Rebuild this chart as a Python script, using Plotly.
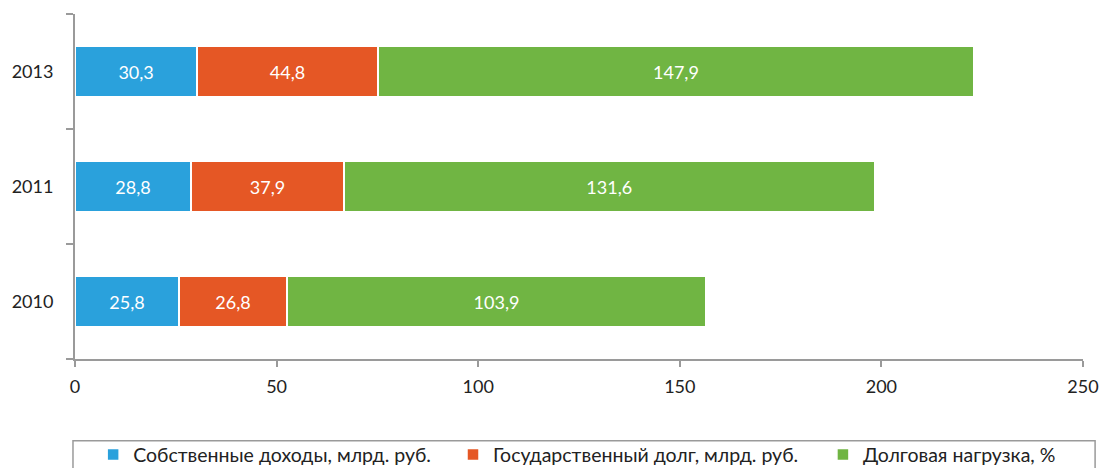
import plotly.graph_objects as go

years = ['2010', '2011', '2013']
dohody = [25.8, 28.8, 30.3]
dolg = [26.8, 37.9, 44.8]
nagruzka = [103.9, 131.6, 147.9]

names = ['Собственные доходы, млрд. руб.', 'Государственный долг, млрд. руб.', 'Долговая нагрузка, %']
colors = ['#2aa1dc', '#e55725', '#70b543']
legend_x = [0.018, 0.375, 0.742]

fig = go.Figure()
for i, (vals, name, col) in enumerate(zip([dohody, dolg, nagruzka], names, colors)):
    fig.add_trace(go.Bar(
        y=years, x=vals, name=name, orientation='h',
        marker=dict(color=col, line=dict(color='white', width=1.5)),
        texttemplate='%{x:.1f}', textposition='inside', insidetextanchor='middle',
        textfont=dict(color='white', size=18), cliponaxis=False,
        legend='legend' if i == 0 else 'legend%d' % (i + 1),
    ))

leg = dict(orientation='h', xanchor='left', y=-0.278, yanchor='middle',
           font=dict(size=19.5, color='#222222'), bgcolor='rgba(0,0,0,0)')

fig.update_layout(
    barmode='stack', bargap=0.557, separators=', ',
    width=1101, height=468,
    margin=dict(l=75, r=18, t=14, b=109, autoexpand=False),
    plot_bgcolor='white', paper_bgcolor='white',
    font=dict(family='Lato', size=18, color='#222222'),
    showlegend=True,
    legend=dict(leg, x=legend_x[0]),
    legend2=dict(leg, x=legend_x[1]),
    legend3=dict(leg, x=legend_x[2]),
    xaxis=dict(range=[0, 250], dtick=50, showgrid=False, zeroline=False,
               showline=True, linecolor='#9a9a9a', linewidth=2, automargin=False,
               ticks='outside', ticklen=6, tickcolor='#9a9a9a', tickwidth=2,
               ticklabelstandoff=4),
    yaxis=dict(type='category', showgrid=False, showline=True, linecolor='#9a9a9a',
               linewidth=2, ticks='outside', ticklen=7, tickcolor='#9a9a9a', automargin=False,
               tickwidth=2, tickson='boundaries', ticklabelstandoff=16),
    shapes=[dict(type='rect', xref='paper', yref='paper', x0=-0.002, x1=1.012,
                 y0=-0.237, y1=-0.40, line=dict(color='#9a9a9a', width=1.5))],
)

fig.write_html('out.html', config={'displayModeBar': False},
               post_script="document.body.style.margin='0';")
